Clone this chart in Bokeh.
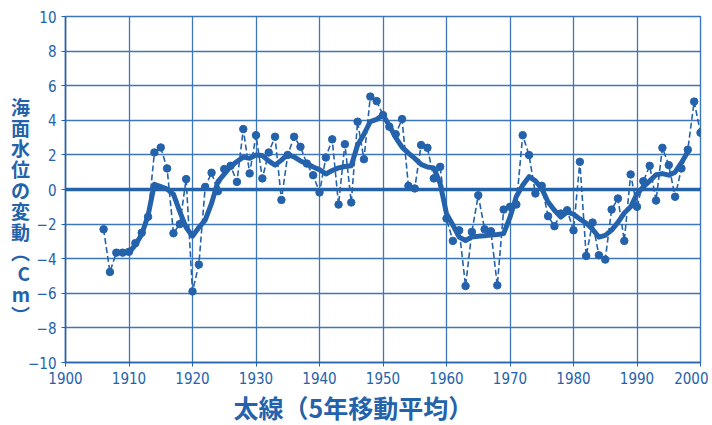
from bokeh.plotting import figure
from bokeh.models import FixedTicker, Span, Title
from bokeh.embed import file_html
from bokeh.resources import INLINE

# ---- data ----
years = list(range(1906, 2001))
annual = [
    -2.3, -4.77, -3.65, -3.65, -3.6, -3.1, -2.5, -1.58, 2.14, 2.43,      # 1906-1915
    1.22, -2.53, -2.0, 0.6, -5.89, -4.34, 0.15, 0.97, -0.1, 1.18,        # 1916-1925
    1.37, 0.44, 3.49, 0.93, 3.14, 0.64, 2.14, 3.05, -0.6, 2.0,           # 1926-1935
    3.05, 2.47, 1.5, 0.83, -0.17, 1.85, 2.9, -0.87, 2.62, -0.75,         # 1936-1945
    3.92, 1.75, 5.37, 5.11, 4.3, 3.63, 3.2, 4.07, 0.21, 0.06,            # 1946-1955
    2.57, 2.41, 0.64, 1.31, -1.68, -2.97, -2.36, -5.58, -2.45, -0.33,    # 1956-1965
    -2.3, -2.41, -5.54, -1.16, -1.0, -0.87, 3.14, 1.99, -0.23, 0.21,     # 1966-1975
    -1.54, -2.12, -1.39, -1.2, -2.36, 1.6, -3.84, -1.91, -3.8, -4.05,    # 1976-1985
    -1.16, -0.52, -2.97, 0.87, -1.0, 0.48, 1.37, -0.64, 2.41, 1.41,      # 1986-1995
    -0.42, 1.22, 2.3, 5.08, 3.28,                                        # 1996-2000
]
ma_years = list(range(1908, 1999))
ma5 = [
    -3.6, -3.63, -3.65, -3.2, -2.6, -1.5, 0.3, 0.17,                     # 1908-1915
    0.02, -0.27, -1.28, -2.2, -2.7, -2.2, -1.77, -0.8, 0.45, 0.89,       # 1916-1925
    1.33, 1.62, 1.87, 1.8, 2.0, 1.96, 1.65, 1.41, 1.7, 2.03,             # 1926-1935
    1.88, 1.65, 1.5, 1.3, 1.15, 0.9, 1.1, 1.25, 1.33, 1.37,              # 1936-1945
    2.57, 3.2, 3.92, 4.05, 4.3, 3.7, 3.0, 2.45, 2.1, 1.8,                # 1946-1955
    1.45, 1.3, 1.25, 0.35, -1.4, -2.05, -2.75, -2.95, -2.74, -2.7,       # 1956-1965
    -2.67, -2.63, -2.6, -2.55, -1.6, -0.4, 0.25, 0.74, 0.5, 0.05,        # 1966-1975
    -0.72, -1.2, -1.6, -1.3, -1.43, -1.7, -1.95, -2.3, -2.75, -2.65,     # 1976-1985
    -2.35, -1.9, -1.36, -1.0, -0.25, 0.15, 0.5, 0.85, 0.92, 0.83,        # 1986-1995
    1.0, 1.55, 2.18,                                                     # 1996-1998
]
x_ticks = list(range(1900, 2001, 10))
y_ticks = list(range(-10, 11, 2))
y_title_chars = ["海", "面", "水", "位", "の", "変", "動", "︵", "C", "m", "︶"]
x_title = "太線（5年移動平均）"

BLUE = "#2462ab"
GRID = "#3e76bb"
NUM_FONT = "'Liberation Sans Narrow', 'DejaVu Sans Condensed', Roboto"
JP_FONT = "'Noto Sans CJK JP'"

p = figure(width=708, height=425, x_range=(1900, 2000), y_range=(-10, 10),
           output_backend="svg", toolbar_location=None,
           min_border_left=65, min_border_right=8, min_border_top=16, min_border_bottom=63)
p.background_fill_color = "white"
p.border_fill_color = "white"
p.outline_line_color = GRID
p.outline_line_width = 1.4

# grid
p.xgrid.ticker = FixedTicker(ticks=x_ticks)
p.ygrid.ticker = FixedTicker(ticks=y_ticks)
for g in (p.xgrid, p.ygrid):
    g.grid_line_color = GRID
    g.grid_line_width = 1.3

# axes
p.xaxis.ticker = FixedTicker(ticks=x_ticks)
p.yaxis.ticker = FixedTicker(ticks=y_ticks)
p.yaxis.major_label_overrides = {t: str(t).replace("-", "\u2212") for t in y_ticks}
for ax in (p.xaxis, p.yaxis):
    ax.axis_line_color = BLUE
    ax.axis_line_width = 1.5
    ax.major_tick_line_color = BLUE
    ax.major_tick_in = 0
    ax.major_tick_out = 4
    ax.minor_tick_line_color = None
    ax.major_label_text_color = BLUE
    ax.major_label_text_font = NUM_FONT
    ax.major_label_text_font_size = "15px"
p.yaxis.major_label_standoff = 5
p.xaxis.major_label_standoff = 5

# vertical (upright) y-axis title, stacked one character per line
p.yaxis.axis_label = "\n".join(["\u3000", "\u3000"] + y_title_chars)
p.yaxis.axis_label_orientation = "horizontal"
p.yaxis.axis_label_text_font = JP_FONT
p.yaxis.axis_label_text_font_size = "19px"
p.yaxis.axis_label_text_font_style = "bold"
p.yaxis.axis_label_text_color = BLUE
p.yaxis.axis_label_text_line_height = 0.77
p.yaxis.axis_label_standoff = -5

# zero line
p.add_layout(Span(location=0, dimension="width", line_color=BLUE, line_width=3.5))

# annual values (dashed with dots)
p.line(years, annual, line_color=BLUE, line_width=1.6, line_dash="6 3")
p.scatter(years, annual, size=7.5, fill_color=BLUE, line_color=BLUE)

# 5-year moving average (thick)
p.line(ma_years, ma5, line_color=BLUE, line_width=5, line_join="round")

# x title below the axis
p.add_layout(Title(text=x_title, align="left", offset=168, standoff=0,
                   text_color=BLUE, text_font=JP_FONT, text_font_size="25px",
                   text_font_style="bold", text_line_height=0.85), "below")

open("out.html", "w").write(file_html(p, INLINE))
